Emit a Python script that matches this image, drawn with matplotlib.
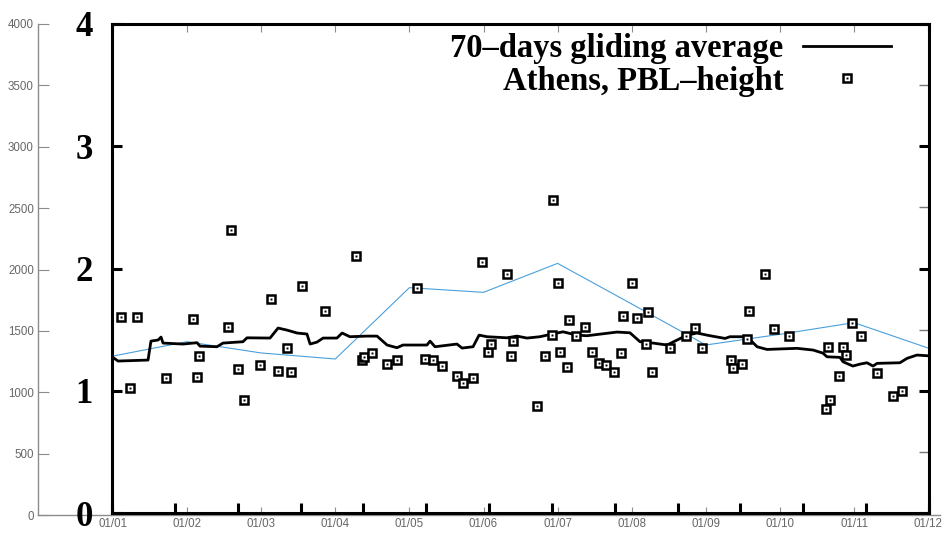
import numpy as np
import matplotlib
matplotlib.use("Agg")
import matplotlib.pyplot as plt
from matplotlib.lines import Line2D
from matplotlib.legend_handler import HandlerTuple
from matplotlib.font_manager import FontProperties

# ---------------- data ----------------
# background chart: monthly values (m)
month_labels = ['01/01', '01/02', '01/03', '01/04', '01/05', '01/06',
                '01/07', '01/08', '01/09', '01/10', '01/11', '01/12']
month_idx = list(range(12))
monthly_pbl = [1295, 1412, 1320, 1271, 1852, 1814, 2050, 1719, 1385, 1472, 1567, 1360]

# overlay: 70-days gliding average (day of year, km)
avg_day = [0, 2.7, 16.1, 17.4, 20.6, 21.9, 22.8, 31.7, 38.0, 39.3, 46.9, 49.6, 58.5, 60.3,
           70.6, 74.2, 78.2, 82.7, 87.1, 88.5, 91.6, 94.3, 100.5, 102.8, 106.3, 113.9,
           118.4, 122.9, 127.3, 130.0, 140.7, 142.1, 144.3, 154.1, 156.4, 161.3, 164.0,
           167.5, 176.5, 180.9, 185.4, 191.2, 196.6, 201.5, 207.7, 212.2, 225.6, 231.4,
           235.9, 241.7, 248.0, 250.6, 256.9, 261.4, 265.8, 268.1, 273.9, 276.1, 283.7,
           288.2, 292.6, 306.0, 313.2, 317.6, 319.4, 325.2, 326.6, 331.0, 334.2, 337.3,
           340.0, 341.8, 352.0, 355.2, 359.6, 364.6]
avg_km = [1.278, 1.243, 1.251, 1.406, 1.415, 1.439, 1.390, 1.382, 1.393, 1.365, 1.360, 1.390,
          1.401, 1.433, 1.431, 1.513, 1.496, 1.472, 1.464, 1.382, 1.398, 1.431, 1.431, 1.472,
          1.442, 1.447, 1.447, 1.374, 1.352, 1.374, 1.374, 1.406, 1.360, 1.382, 1.349, 1.360,
          1.455, 1.442, 1.433, 1.447, 1.431, 1.442, 1.464, 1.482, 1.455, 1.450, 1.480, 1.474,
          1.401, 1.390, 1.374, 1.398, 1.455, 1.472, 1.455, 1.447, 1.428, 1.442, 1.442, 1.360,
          1.338, 1.347, 1.333, 1.308, 1.278, 1.273, 1.237, 1.202, 1.218, 1.229, 1.202, 1.224,
          1.229, 1.265, 1.292, 1.286]

# overlay: Athens PBL-height observations (day of year, km)
obs_day = [4.0, 11.0, 8.0, 24.0, 36.1, 37.8, 39.0, 52.0, 53.0, 56.2, 59.0, 66.1, 70.9, 74.2,
           78.0, 80.0, 85.0, 95.2, 109.0, 111.7, 112.6, 116.0, 123.0, 127.2, 136.1, 139.8,
           143.3, 147.3, 154.3, 156.9, 161.1, 165.2, 168.1, 169.2, 176.3, 178.3, 179.0,
           190.0, 193.4, 196.4, 197.2, 199.4, 200.1, 203.1, 204.3, 207.3, 211.3, 214.3,
           217.6, 220.6, 224.4, 227.4, 228.4, 232.5, 234.4, 238.4, 239.3, 241.4, 249.3,
           256.4, 260.5, 263.4, 276.5, 277.6, 281.5, 283.6, 284.7, 291.7, 295.8, 302.5,
           318.8, 320.8, 324.8, 319.7, 326.7, 327.8, 330.7, 334.6, 341.6, 348.8, 352.8]
obs_km = [1.600, 1.600, 1.025, 1.102, 1.586, 1.114, 1.286, 1.523, 2.314, 1.180, 0.922, 1.213,
          1.750, 1.161, 1.352, 1.150, 1.859, 1.654, 2.101, 1.251, 1.276, 1.306, 1.216, 1.251,
          1.837, 1.259, 1.251, 1.202, 1.120, 1.065, 1.101, 2.055, 1.314, 1.379, 1.952, 1.284,
          1.409, 0.877, 1.284, 1.453, 2.559, 1.878, 1.319, 1.191, 1.578, 1.450, 1.523, 1.314,
          1.224, 1.210, 1.153, 1.306, 1.611, 1.878, 1.597, 1.382, 1.646, 1.150, 1.347, 1.450,
          1.515, 1.352, 1.251, 1.183, 1.218, 1.420, 1.652, 1.952, 1.504, 1.450, 0.850, 0.924,
          1.123, 1.355, 1.355, 1.289, 1.551, 1.450, 1.147, 0.957, 0.998]

bg_yticks = [0, 500, 1000, 1500, 2000, 2500, 3000, 3500, 4000]
ov_yticks = [0, 1, 2, 3, 4]
ov_yticklabels = ['0', '1', '2', '3', '4']

# ---------------- figure ----------------
W, H = 942, 536
fig = plt.figure(figsize=(W / 100, H / 100), dpi=100)

gray = '#8c8c8c'
# background chart
bg = fig.add_axes([38 / W, (H - 515) / H, (940 - 38) / W, (515 - 24) / H])
bg.set_xlim(-1.012, 11.16)
bg.set_ylim(0, 4000)
bg.plot(month_idx, monthly_pbl, color='#4a9fdc', lw=0.8)
for s in ['top', 'right']:
    bg.spines[s].set_visible(False)
for s in ['left', 'bottom']:
    bg.spines[s].set_color(gray)
    bg.spines[s].set_linewidth(1.0)
bg.set_yticks(bg_yticks)
bg.set_yticklabels([str(v) for v in bg_yticks], family='Liberation Sans', fontsize=8.3, color='#666666')
bg.set_xticks(month_idx)
bg.set_xticklabels(month_labels, family='Liberation Sans', fontsize=8.3, color='#666666')
bg.tick_params(axis='y', direction='in', length=8, color=gray, pad=3)
bg.tick_params(axis='x', direction='in', length=6, color=gray, pad=2.5, top=True)

# overlay chart
ov = fig.add_axes([112 / W, (H - 513) / H, 817 / W, 489 / H])
ov.patch.set_alpha(0)
ov.set_xlim(0, 365)
ov.set_ylim(0, 4)
for s in ov.spines.values():
    s.set_linewidth(2.2)
    s.set_color('black')
ov.set_xticks(np.linspace(0, 365, 14))
ov.tick_params(axis='x', direction='in', length=7, width=2.2, labelbottom=False)
ov.set_yticks(ov_yticks)
ov.set_yticklabels(ov_yticklabels, family='Liberation Serif', fontweight='bold', fontsize=25)
ov.tick_params(axis='y', which='major', direction='in', length=7, width=2.2,
               left=True, right=True, pad=14)
ov.set_yticks([0.5, 1.5, 2.5, 3.5], minor=True)
ov.tick_params(axis='y', which='minor', direction='in', length=7, width=1.0,
               left=False, right=True, color='#777777')

ov.plot(avg_day, avg_km, color='black', lw=2.0, zorder=3)
ov.plot(obs_day, obs_km, ls='none', marker='s', ms=5.6, mfc='white', mec='black', mew=1.8, zorder=4)
ov.plot(obs_day, obs_km, ls='none', marker='s', ms=1.4, color='black', mew=0, zorder=5)

h_line = Line2D([], [], color='black', lw=2.0)
h_pt = (Line2D([], [], ls='none', marker='s', ms=5.6, mfc='white', mec='black', mew=1.8),
        Line2D([], [], ls='none', marker='s', ms=1.4, color='black', mew=0))
ov.legend([h_line, h_pt], ['70–days gliding average', 'Athens, PBL–height'],
          loc='upper right', bbox_to_anchor=((891 - 112) / 817, (513 - 33) / 489),
          frameon=False, markerfirst=False, borderpad=0, borderaxespad=0,
          prop=FontProperties(family='Liberation Serif', weight='bold', size=23.5),
          handlelength=2.7, handletextpad=0.6, labelspacing=0.05,
          handler_map={tuple: HandlerTuple(ndivide=1)})

fig.savefig('out.png', dpi=100)
